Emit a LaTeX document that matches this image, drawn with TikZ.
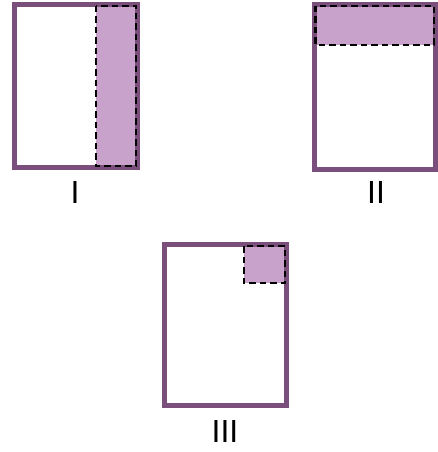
\documentclass[tikz,border=0pt]{standalone}
\usepackage{fontspec}
\setmainfont{Liberation Sans}
\definecolor{plumline}{HTML}{7B4F7B}
\definecolor{lilacfill}{HTML}{C8A2CB}

\begin{document}
\begin{tikzpicture}[x=1pt,y=-1pt,
  box/.style={draw=plumline, line width=4.5pt},
  part/.style={draw=black, line width=2.4pt, dash pattern=on 6.5pt off 4pt},
  roman/.style={font=\fontsize{32}{32}\selectfont}]
  \useasboundingbox (0,0) rectangle (438,452);

  % Figure I
  \fill[lilacfill] (96,4.5) rectangle (137.5,167.5);
  \draw[box] (14.5,4.5) rectangle (137.5,167.5);
  \draw[part] (96,6) rectangle (136,166);
  \node[roman] (labI) at (75,192) {I};

  % Figure II
  \fill[lilacfill] (314.5,4.5) rectangle (435.5,45);
  \draw[box] (314.5,4.5) rectangle (435.5,169.5);
  \draw[part] (315.5,6) rectangle (434,45);
  \node[roman] (labII) at (376,192) {II};

  % Figure III
  \fill[lilacfill] (244,244.5) rectangle (286.5,283);
  \draw[box] (164.5,244.5) rectangle (286.5,405.5);
  \draw[part] (244,246) rectangle (285,283);
  \node[roman] (labIII) at (225,431) {III};
\end{tikzpicture}
\end{document}
